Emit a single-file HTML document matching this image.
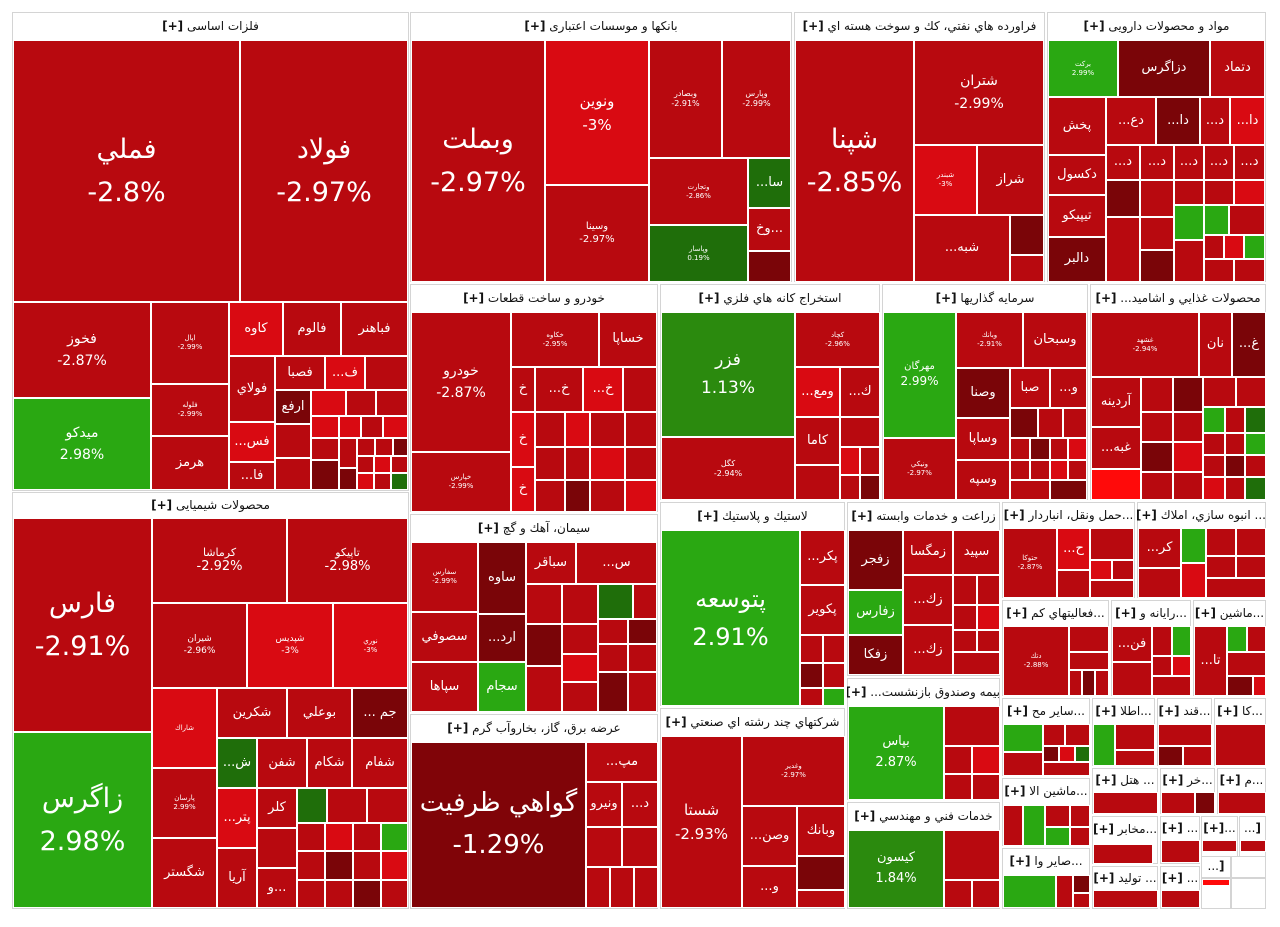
<!DOCTYPE html>
<html><head><meta charset="utf-8">
<style>
body{margin:0;width:1280px;height:927px;background:#fff;position:relative;overflow:hidden;font-family:"DejaVu Sans","Liberation Sans",sans-serif}
.s{position:absolute;box-sizing:border-box;border:1px solid #d4d4d4;background:#fff}
.h{position:absolute;box-sizing:border-box;height:28px;line-height:28px;text-align:center;font-size:12px;color:#111;white-space:nowrap;overflow:hidden;direction:rtl}
.t{position:absolute;box-sizing:border-box;border:1px solid #fff;display:flex;flex-direction:column;align-items:center;justify-content:center;color:#fff;text-align:center;overflow:hidden;line-height:1.25;white-space:nowrap;font-size:13px}
.r{background:#b8090f}.b{background:#d90a12}.d{background:#7a0508}.g{background:#2aa812}.G{background:#1f6e0a}.m{background:#2b8a0e}.R{background:#ff0a0a}
.L{font-size:27px;line-height:1.6}.M{font-size:14px;line-height:1.6}.x{font-size:7px}
</style></head><body>
<!-- sector frames & headers -->
<div class="s" style="left:12px;top:12px;width:397px;height:479px"></div><div class="h" style="left:12px;top:12px;width:397px">فلزات اساسی <b>[+]</b></div>
<div class="s" style="left:12px;top:492px;width:397px;height:417px"></div><div class="h" style="left:12px;top:492px;width:397px;height:26px;line-height:26px">محصولات شیمیایی <b>[+]</b></div>
<div class="s" style="left:410px;top:12px;width:382px;height:270px"></div><div class="h" style="left:410px;top:12px;width:382px">بانکها و موسسات اعتباری <b>[+]</b></div>
<div class="s" style="left:794px;top:12px;width:251px;height:270px"></div><div class="h" style="left:794px;top:12px;width:251px">فراورده هاي نفتي، كك و سوخت هسته اي <b>[+]</b></div>
<div class="s" style="left:1047px;top:12px;width:219px;height:270px"></div><div class="h" style="left:1047px;top:12px;width:219px">مواد و محصولات دارویی <b>[+]</b></div>
<div class="s" style="left:410px;top:284px;width:248px;height:228px"></div><div class="h" style="left:410px;top:284px;width:248px">خودرو و ساخت قطعات <b>[+]</b></div>
<div class="s" style="left:660px;top:284px;width:220px;height:216px"></div><div class="h" style="left:660px;top:284px;width:220px">استخراج كانه هاي فلزي <b>[+]</b></div>
<div class="s" style="left:882px;top:284px;width:206px;height:216px"></div><div class="h" style="left:882px;top:284px;width:206px">سرمايه گذاريها <b>[+]</b></div>
<div class="s" style="left:1090px;top:284px;width:176px;height:216px"></div><div class="h" style="left:1090px;top:284px;width:176px">محصولات غذايي و اشاميد... <b>[+]</b></div>
<div class="s" style="left:410px;top:514px;width:248px;height:198px"></div><div class="h" style="left:410px;top:514px;width:248px">سيمان، آهك و گچ <b>[+]</b></div>
<div class="s" style="left:410px;top:714px;width:248px;height:195px"></div><div class="h" style="left:410px;top:714px;width:248px">عرضه برق، گاز، بخاروآب گرم <b>[+]</b></div>
<div class="s" style="left:660px;top:502px;width:185px;height:204px"></div><div class="h" style="left:660px;top:502px;width:185px">لاستيك و پلاستيك <b>[+]</b></div>
<div class="s" style="left:660px;top:708px;width:185px;height:201px"></div><div class="h" style="left:660px;top:708px;width:185px">شركتهاي چند رشته اي صنعتي <b>[+]</b></div>
<div class="s" style="left:847px;top:502px;width:153px;height:174px"></div><div class="h" style="left:847px;top:502px;width:153px">زراعت و خدمات وابسته <b>[+]</b></div>
<div class="s" style="left:847px;top:678px;width:153px;height:122px"></div><div class="h" style="left:847px;top:678px;width:153px">بيمه وصندوق بازنشست... <b>[+]</b></div>
<div class="s" style="left:847px;top:802px;width:153px;height:107px"></div><div class="h" style="left:847px;top:802px;width:153px">خدمات فني و مهندسي <b>[+]</b></div>
<div class="s" style="left:1002px;top:502px;width:133px;height:96px"></div><div class="h" style="left:1002px;top:502px;width:133px;height:26px;line-height:26px">...حمل ونقل، انباردار <b>[+]</b></div>
<div class="s" style="left:1137px;top:502px;width:129px;height:96px"></div><div class="h" style="left:1137px;top:502px;width:129px;height:26px;line-height:26px">... انبوه سازي، املاك <b>[+]</b></div>
<div class="s" style="left:1002px;top:600px;width:107px;height:96px"></div><div class="h" style="left:1002px;top:600px;width:107px;height:26px;line-height:26px">...فعاليتهاي كم <b>[+]</b></div>
<div class="s" style="left:1111px;top:600px;width:80px;height:96px"></div><div class="h" style="left:1111px;top:600px;width:80px;height:26px;line-height:26px">...رايانه و <b>[+]</b></div>
<div class="s" style="left:1193px;top:600px;width:73px;height:96px"></div><div class="h" style="left:1193px;top:600px;width:73px;height:26px;line-height:26px">...ماشين <b>[+]</b></div>
<div class="s" style="left:1002px;top:698px;width:88px;height:78px"></div><div class="h" style="left:1002px;top:698px;width:88px;height:26px;line-height:26px">...ساير مح <b>[+]</b></div>
<div class="s" style="left:1092px;top:698px;width:63px;height:68px"></div><div class="h" style="left:1092px;top:698px;width:63px;height:26px;line-height:26px">...اطلا <b>[+]</b></div>
<div class="s" style="left:1157px;top:698px;width:55px;height:68px"></div><div class="h" style="left:1157px;top:698px;width:55px;height:26px;line-height:26px">...قند <b>[+]</b></div>
<div class="s" style="left:1214px;top:698px;width:52px;height:68px"></div><div class="h" style="left:1214px;top:698px;width:52px;height:26px;line-height:26px">...كا <b>[+]</b></div>
<div class="s" style="left:1092px;top:768px;width:66px;height:46px"></div><div class="h" style="left:1092px;top:768px;width:66px;height:24px;line-height:24px">... هتل <b>[+]</b></div>
<div class="s" style="left:1160px;top:768px;width:55px;height:46px"></div><div class="h" style="left:1160px;top:768px;width:55px;height:24px;line-height:24px">...خر <b>[+]</b></div>
<div class="s" style="left:1217px;top:768px;width:49px;height:46px"></div><div class="h" style="left:1217px;top:768px;width:49px;height:24px;line-height:24px">...م <b>[+]</b></div>
<div class="s" style="left:1002px;top:778px;width:88px;height:68px"></div><div class="h" style="left:1002px;top:778px;width:88px;height:27px;line-height:27px">...ماشين الا <b>[+]</b></div>
<div class="s" style="left:1002px;top:848px;width:88px;height:61px"></div><div class="h" style="left:1002px;top:848px;width:88px;height:27px;line-height:27px">...صاير وا <b>[+]</b></div>
<div class="s" style="left:1092px;top:816px;width:66px;height:48px"></div><div class="h" style="left:1092px;top:816px;width:66px;height:26px;line-height:26px">...مخابر <b>[+]</b></div>
<div class="s" style="left:1092px;top:866px;width:66px;height:43px"></div><div class="h" style="left:1092px;top:866px;width:66px;height:24px;line-height:24px">... توليد <b>[+]</b></div>
<div class="s" style="left:1160px;top:816px;width:40px;height:48px"></div><div class="h" style="left:1160px;top:816px;width:40px;height:24px;line-height:24px">... <b>[+]</b></div>
<div class="s" style="left:1201px;top:816px;width:37px;height:48px"></div><div class="h" style="left:1201px;top:816px;width:37px;height:24px;line-height:24px">...<b>[+]</b></div>
<div class="s" style="left:1239px;top:816px;width:27px;height:48px"></div><div class="h" style="left:1239px;top:816px;width:27px;height:24px;line-height:24px"><b>[</b>...</div>
<div class="s" style="left:1160px;top:866px;width:40px;height:43px"></div><div class="h" style="left:1160px;top:866px;width:40px;height:24px;line-height:24px">... <b>[+]</b></div>
<div class="s" style="left:1201px;top:856px;width:30px;height:22px"></div><div class="h" style="left:1201px;top:856px;width:30px;height:20px;line-height:20px"><b>[</b>...</div>
<div class="s" style="left:1231px;top:856px;width:35px;height:22px"></div>
<div class="s" style="left:1201px;top:878px;width:30px;height:31px"></div>
<div class="s" style="left:1231px;top:878px;width:35px;height:31px"></div>

<!-- فلزات -->
<div class="t r L" style="left:13px;top:40px;width:227px;height:262px"><div>فملي</div><div>-2.8%</div></div>
<div class="t r L" style="left:240px;top:40px;width:168px;height:262px"><div>فولاد</div><div>-2.97%</div></div>
<div class="t r M" style="left:13px;top:302px;width:138px;height:96px"><div>فخوز</div><div>-2.87%</div></div>
<div class="t g M" style="left:13px;top:398px;width:138px;height:92px"><div>ميدكو</div><div>2.98%</div></div>
<div class="t r x" style="left:151px;top:302px;width:78px;height:82px"><div>اپال</div><div>-2.99%</div></div>
<div class="t r x" style="left:151px;top:384px;width:78px;height:52px"><div>فلوله</div><div>-2.99%</div></div>
<div class="t r" style="left:151px;top:436px;width:78px;height:54px">هرمز</div>
<div class="t b" style="left:229px;top:302px;width:54px;height:54px">كاوه</div>
<div class="t r" style="left:283px;top:302px;width:58px;height:54px">فالوم</div>
<div class="t r" style="left:341px;top:302px;width:67px;height:54px">فباهنر</div>
<div class="t r" style="left:229px;top:356px;width:46px;height:66px">فولاي</div>
<div class="t r" style="left:275px;top:356px;width:50px;height:34px">فصبا</div>
<div class="t b" style="left:325px;top:356px;width:40px;height:34px">...ف</div>
<div class="t r" style="left:365px;top:356px;width:43px;height:34px"></div>
<div class="t b" style="left:229px;top:422px;width:46px;height:40px">...فس</div>
<div class="t r" style="left:229px;top:462px;width:46px;height:28px">...فا</div>
<div class="t d" style="left:275px;top:390px;width:36px;height:34px">ارفع</div>
<div class="t r" style="left:275px;top:424px;width:36px;height:34px"></div>
<div class="t r" style="left:275px;top:458px;width:36px;height:32px"></div>
<div class="t b" style="left:311px;top:390px;width:35px;height:26px"></div>
<div class="t r" style="left:346px;top:390px;width:30px;height:26px"></div>
<div class="t r" style="left:376px;top:390px;width:32px;height:26px"></div>
<div class="t b" style="left:311px;top:416px;width:28px;height:22px"></div>
<div class="t b" style="left:339px;top:416px;width:22px;height:22px"></div>
<div class="t r" style="left:361px;top:416px;width:22px;height:22px"></div>
<div class="t b" style="left:383px;top:416px;width:25px;height:22px"></div>
<div class="t r" style="left:311px;top:438px;width:28px;height:22px"></div>
<div class="t d" style="left:311px;top:460px;width:28px;height:30px"></div>
<div class="t r" style="left:339px;top:438px;width:18px;height:30px"></div>
<div class="t d" style="left:339px;top:468px;width:18px;height:22px"></div>
<div class="t r" style="left:357px;top:438px;width:18px;height:18px"></div>
<div class="t r" style="left:375px;top:438px;width:18px;height:18px"></div>
<div class="t d" style="left:393px;top:438px;width:15px;height:18px"></div>
<div class="t r" style="left:357px;top:456px;width:17px;height:17px"></div>
<div class="t b" style="left:374px;top:456px;width:17px;height:17px"></div>
<div class="t r" style="left:391px;top:456px;width:17px;height:17px"></div>
<div class="t b" style="left:357px;top:473px;width:17px;height:17px"></div>
<div class="t r" style="left:374px;top:473px;width:17px;height:17px"></div>
<div class="t G" style="left:391px;top:473px;width:17px;height:17px"></div>

<!-- شیمیایی -->
<div class="t r L" style="left:13px;top:518px;width:139px;height:214px"><div>فارس</div><div>-2.91%</div></div>
<div class="t g L" style="left:13px;top:732px;width:139px;height:176px"><div>زاگرس</div><div>2.98%</div></div>
<div class="t r" style="left:152px;top:518px;width:135px;height:85px"><div style="font-size:11px">كرماشا</div><div>-2.92%</div></div>
<div class="t r" style="left:287px;top:518px;width:121px;height:85px"><div style="font-size:11px">تاپيكو</div><div>-2.98%</div></div>
<div class="t r" style="left:152px;top:603px;width:95px;height:85px;font-size:9px"><div>شيران</div><div>-2.96%</div></div>
<div class="t b" style="left:247px;top:603px;width:86px;height:85px;font-size:9px"><div>شپديس</div><div>-3%</div></div>
<div class="t b" style="left:333px;top:603px;width:75px;height:85px;font-size:7px"><div>نوري</div><div>-3%</div></div>
<div class="t b x" style="left:152px;top:688px;width:65px;height:80px">شاراك</div>
<div class="t r x" style="left:152px;top:768px;width:65px;height:70px"><div>پارسان</div><div>2.99%</div></div>
<div class="t r" style="left:152px;top:838px;width:65px;height:70px">شگستر</div>
<div class="t r" style="left:217px;top:688px;width:70px;height:50px">شكرين</div>
<div class="t r" style="left:287px;top:688px;width:65px;height:50px">بوعلي</div>
<div class="t d" style="left:352px;top:688px;width:56px;height:50px">... جم</div>
<div class="t G" style="left:217px;top:738px;width:40px;height:50px">...ش</div>
<div class="t r" style="left:257px;top:738px;width:50px;height:50px">شفن</div>
<div class="t r" style="left:307px;top:738px;width:45px;height:50px">شكام</div>
<div class="t r" style="left:352px;top:738px;width:56px;height:50px">شفام</div>
<div class="t b" style="left:217px;top:788px;width:40px;height:60px">...پتر</div>
<div class="t r" style="left:257px;top:788px;width:40px;height:40px">كلر</div>
<div class="t G" style="left:297px;top:788px;width:30px;height:35px"></div>
<div class="t r" style="left:327px;top:788px;width:40px;height:35px"></div>
<div class="t r" style="left:367px;top:788px;width:41px;height:35px"></div>
<div class="t r" style="left:217px;top:848px;width:40px;height:60px">آريا</div>
<div class="t r" style="left:257px;top:828px;width:40px;height:40px"></div>
<div class="t r" style="left:257px;top:868px;width:40px;height:40px">و...</div>
<div class="t r" style="left:297px;top:823px;width:28px;height:28px"></div>
<div class="t b" style="left:325px;top:823px;width:28px;height:28px"></div>
<div class="t r" style="left:353px;top:823px;width:28px;height:28px"></div>
<div class="t g" style="left:381px;top:823px;width:27px;height:28px"></div>
<div class="t r" style="left:297px;top:851px;width:28px;height:29px"></div>
<div class="t d" style="left:325px;top:851px;width:28px;height:29px"></div>
<div class="t r" style="left:353px;top:851px;width:28px;height:29px"></div>
<div class="t b" style="left:381px;top:851px;width:27px;height:29px"></div>
<div class="t r" style="left:297px;top:880px;width:28px;height:28px"></div>
<div class="t r" style="left:325px;top:880px;width:28px;height:28px"></div>
<div class="t d" style="left:353px;top:880px;width:28px;height:28px"></div>
<div class="t r" style="left:381px;top:880px;width:27px;height:28px"></div>

<!-- بانکها -->
<div class="t r L" style="left:411px;top:40px;width:134px;height:242px"><div>وبملت</div><div>-2.97%</div></div>
<div class="t b" style="left:545px;top:40px;width:104px;height:145px;font-size:15px;line-height:1.6"><div>ونوين</div><div>-3%</div></div>
<div class="t r" style="left:545px;top:185px;width:104px;height:97px;font-size:10px"><div>وسينا</div><div>-2.97%</div></div>
<div class="t r" style="left:649px;top:40px;width:73px;height:118px;font-size:8px"><div>وبصادر</div><div>-2.91%</div></div>
<div class="t r" style="left:722px;top:40px;width:69px;height:118px;font-size:8px"><div>وپارس</div><div>-2.99%</div></div>
<div class="t r" style="left:649px;top:158px;width:99px;height:67px;font-size:7px"><div>وتجارت</div><div>-2.86%</div></div>
<div class="t G" style="left:748px;top:158px;width:43px;height:50px">...سا</div>
<div class="t r" style="left:748px;top:208px;width:43px;height:43px">وخ...</div>
<div class="t d" style="left:748px;top:251px;width:43px;height:31px"></div>
<div class="t G x" style="left:649px;top:225px;width:99px;height:57px"><div>وپاسار</div><div>0.19%</div></div>

<!-- نفتی -->
<div class="t r L" style="left:795px;top:40px;width:119px;height:242px"><div>شپنا</div><div>-2.85%</div></div>
<div class="t r" style="left:914px;top:40px;width:130px;height:105px;font-size:14px;line-height:1.6"><div>شتران</div><div>-2.99%</div></div>
<div class="t b x" style="left:914px;top:145px;width:63px;height:70px"><div>شبندر</div><div>-3%</div></div>
<div class="t r" style="left:977px;top:145px;width:67px;height:70px">شراز</div>
<div class="t r" style="left:914px;top:215px;width:96px;height:67px">...شبه</div>
<div class="t d" style="left:1010px;top:215px;width:34px;height:40px"></div>
<div class="t r" style="left:1010px;top:255px;width:34px;height:27px"></div>

<!-- دارویی -->
<div class="t g x" style="left:1048px;top:40px;width:70px;height:57px"><div>بركت</div><div>2.99%</div></div>
<div class="t d" style="left:1118px;top:40px;width:92px;height:57px">دزاگرس</div>
<div class="t r" style="left:1210px;top:40px;width:55px;height:57px">دتماد</div>
<div class="t r" style="left:1048px;top:97px;width:58px;height:58px">پخش</div>
<div class="t r" style="left:1048px;top:155px;width:58px;height:40px">دكسول</div>
<div class="t r" style="left:1048px;top:195px;width:58px;height:42px">تيپيكو</div>
<div class="t d" style="left:1048px;top:237px;width:58px;height:45px">دالبر</div>
<div class="t r" style="left:1106px;top:97px;width:50px;height:48px">...دع</div>
<div class="t d" style="left:1156px;top:97px;width:44px;height:48px">...دا</div>
<div class="t r" style="left:1200px;top:97px;width:30px;height:48px">...د</div>
<div class="t b" style="left:1230px;top:97px;width:35px;height:48px">...دا</div>
<div class="t r" style="left:1106px;top:145px;width:34px;height:35px">...د</div>
<div class="t r" style="left:1140px;top:145px;width:34px;height:35px">...د</div>
<div class="t r" style="left:1174px;top:145px;width:30px;height:35px">...د</div>
<div class="t r" style="left:1204px;top:145px;width:30px;height:35px">...د</div>
<div class="t r" style="left:1234px;top:145px;width:31px;height:35px">...د</div>
<div class="t d" style="left:1106px;top:180px;width:34px;height:37px"></div>
<div class="t r" style="left:1140px;top:180px;width:34px;height:37px"></div>
<div class="t r" style="left:1174px;top:180px;width:30px;height:25px"></div>
<div class="t r" style="left:1204px;top:180px;width:30px;height:25px"></div>
<div class="t b" style="left:1234px;top:180px;width:31px;height:25px"></div>
<div class="t r" style="left:1106px;top:217px;width:34px;height:65px"></div>
<div class="t r" style="left:1140px;top:217px;width:34px;height:33px"></div>
<div class="t d" style="left:1140px;top:250px;width:34px;height:32px"></div>
<div class="t g" style="left:1174px;top:205px;width:30px;height:35px"></div>
<div class="t g" style="left:1204px;top:205px;width:25px;height:30px"></div>
<div class="t r" style="left:1229px;top:205px;width:36px;height:30px"></div>
<div class="t r" style="left:1174px;top:240px;width:30px;height:42px"></div>
<div class="t r" style="left:1204px;top:235px;width:20px;height:24px"></div>
<div class="t b" style="left:1224px;top:235px;width:20px;height:24px"></div>
<div class="t g" style="left:1244px;top:235px;width:21px;height:24px"></div>
<div class="t r" style="left:1204px;top:259px;width:30px;height:23px"></div>
<div class="t r" style="left:1234px;top:259px;width:31px;height:23px"></div>

<!-- خودرو -->
<div class="t r M" style="left:411px;top:312px;width:100px;height:140px"><div>خودرو</div><div>-2.87%</div></div>
<div class="t r x" style="left:411px;top:452px;width:100px;height:60px"><div>خپارس</div><div>-2.99%</div></div>
<div class="t r x" style="left:511px;top:312px;width:88px;height:55px"><div>خكاوه</div><div>-2.95%</div></div>
<div class="t r" style="left:599px;top:312px;width:58px;height:55px">خساپا</div>
<div class="t r" style="left:511px;top:367px;width:24px;height:45px">خ</div>
<div class="t r" style="left:535px;top:367px;width:48px;height:45px">...خ</div>
<div class="t b" style="left:583px;top:367px;width:40px;height:45px">...خ</div>
<div class="t r" style="left:623px;top:367px;width:34px;height:45px"></div>
<div class="t b" style="left:511px;top:412px;width:24px;height:55px">خ</div>
<div class="t b" style="left:511px;top:467px;width:24px;height:45px">خ</div>
<div class="t r" style="left:535px;top:412px;width:30px;height:35px"></div>
<div class="t b" style="left:565px;top:412px;width:25px;height:35px"></div>
<div class="t r" style="left:590px;top:412px;width:35px;height:35px"></div>
<div class="t r" style="left:625px;top:412px;width:32px;height:35px"></div>
<div class="t r" style="left:535px;top:447px;width:30px;height:33px"></div>
<div class="t r" style="left:565px;top:447px;width:25px;height:33px"></div>
<div class="t b" style="left:590px;top:447px;width:35px;height:33px"></div>
<div class="t r" style="left:625px;top:447px;width:32px;height:33px"></div>
<div class="t r" style="left:535px;top:480px;width:30px;height:32px"></div>
<div class="t d" style="left:565px;top:480px;width:25px;height:32px"></div>
<div class="t r" style="left:590px;top:480px;width:35px;height:32px"></div>
<div class="t b" style="left:625px;top:480px;width:32px;height:32px"></div>

<!-- استخراج -->
<div class="t m M" style="left:661px;top:312px;width:134px;height:125px;font-size:17px"><div>فزر</div><div>1.13%</div></div>
<div class="t r" style="left:661px;top:437px;width:134px;height:63px;font-size:8px"><div>كگل</div><div>-2.94%</div></div>
<div class="t r x" style="left:795px;top:312px;width:85px;height:55px"><div>كچاد</div><div>-2.96%</div></div>
<div class="t b" style="left:795px;top:367px;width:45px;height:50px">...ومع</div>
<div class="t r" style="left:840px;top:367px;width:40px;height:50px">...ك</div>
<div class="t r" style="left:795px;top:417px;width:45px;height:48px">كاما</div>
<div class="t r" style="left:795px;top:465px;width:45px;height:35px"></div>
<div class="t r" style="left:840px;top:417px;width:40px;height:30px"></div>
<div class="t b" style="left:840px;top:447px;width:20px;height:28px"></div>
<div class="t r" style="left:860px;top:447px;width:20px;height:28px"></div>
<div class="t r" style="left:840px;top:475px;width:20px;height:25px"></div>
<div class="t d" style="left:860px;top:475px;width:20px;height:25px"></div>

<!-- سرمایه گذاری -->
<div class="t g" style="left:883px;top:312px;width:73px;height:126px;font-size:10px"><div>مهرگان</div><div style="font-size:12px">2.99%</div></div>
<div class="t r x" style="left:883px;top:438px;width:73px;height:62px"><div>ونيكي</div><div>-2.97%</div></div>
<div class="t r x" style="left:956px;top:312px;width:67px;height:56px"><div>وبانك</div><div>-2.91%</div></div>
<div class="t r" style="left:1023px;top:312px;width:64px;height:56px">وسبحان</div>
<div class="t d" style="left:956px;top:368px;width:54px;height:50px">وصنا</div>
<div class="t r" style="left:1010px;top:368px;width:40px;height:40px">صبا</div>
<div class="t r" style="left:1050px;top:368px;width:37px;height:40px">...و</div>
<div class="t r" style="left:956px;top:418px;width:54px;height:42px">وساپا</div>
<div class="t r" style="left:956px;top:460px;width:54px;height:40px">وسپه</div>
<div class="t d" style="left:1010px;top:408px;width:28px;height:30px"></div>
<div class="t r" style="left:1038px;top:408px;width:25px;height:30px"></div>
<div class="t r" style="left:1063px;top:408px;width:24px;height:30px"></div>
<div class="t r" style="left:1010px;top:438px;width:20px;height:22px"></div>
<div class="t d" style="left:1030px;top:438px;width:20px;height:22px"></div>
<div class="t r" style="left:1050px;top:438px;width:18px;height:22px"></div>
<div class="t b" style="left:1068px;top:438px;width:19px;height:22px"></div>
<div class="t r" style="left:1010px;top:460px;width:20px;height:20px"></div>
<div class="t r" style="left:1030px;top:460px;width:20px;height:20px"></div>
<div class="t b" style="left:1050px;top:460px;width:18px;height:20px"></div>
<div class="t r" style="left:1068px;top:460px;width:19px;height:20px"></div>
<div class="t r" style="left:1010px;top:480px;width:40px;height:20px"></div>
<div class="t d" style="left:1050px;top:480px;width:37px;height:20px"></div>

<!-- غذایی -->
<div class="t r x" style="left:1091px;top:312px;width:108px;height:65px"><div>غشهد</div><div>-2.94%</div></div>
<div class="t r" style="left:1199px;top:312px;width:33px;height:65px">نان</div>
<div class="t d" style="left:1232px;top:312px;width:34px;height:65px">...غ</div>
<div class="t r" style="left:1091px;top:377px;width:50px;height:50px">آردينه</div>
<div class="t r" style="left:1091px;top:427px;width:50px;height:42px">...غبه</div>
<div class="t R" style="left:1091px;top:469px;width:50px;height:31px"></div>
<div class="t r" style="left:1141px;top:377px;width:32px;height:35px"></div>
<div class="t d" style="left:1173px;top:377px;width:30px;height:35px"></div>
<div class="t r" style="left:1203px;top:377px;width:33px;height:30px"></div>
<div class="t r" style="left:1236px;top:377px;width:30px;height:30px"></div>
<div class="t r" style="left:1141px;top:412px;width:32px;height:30px"></div>
<div class="t r" style="left:1173px;top:412px;width:30px;height:30px"></div>
<div class="t g" style="left:1203px;top:407px;width:22px;height:26px"></div>
<div class="t r" style="left:1225px;top:407px;width:20px;height:26px"></div>
<div class="t G" style="left:1245px;top:407px;width:21px;height:26px"></div>
<div class="t d" style="left:1141px;top:442px;width:32px;height:30px"></div>
<div class="t b" style="left:1173px;top:442px;width:30px;height:30px"></div>
<div class="t r" style="left:1203px;top:433px;width:22px;height:22px"></div>
<div class="t r" style="left:1225px;top:433px;width:20px;height:22px"></div>
<div class="t g" style="left:1245px;top:433px;width:21px;height:22px"></div>
<div class="t r" style="left:1141px;top:472px;width:32px;height:28px"></div>
<div class="t r" style="left:1173px;top:472px;width:30px;height:28px"></div>
<div class="t r" style="left:1203px;top:455px;width:22px;height:22px"></div>
<div class="t d" style="left:1225px;top:455px;width:20px;height:22px"></div>
<div class="t r" style="left:1245px;top:455px;width:21px;height:22px"></div>
<div class="t b" style="left:1203px;top:477px;width:22px;height:23px"></div>
<div class="t r" style="left:1225px;top:477px;width:20px;height:23px"></div>
<div class="t G" style="left:1245px;top:477px;width:21px;height:23px"></div>

<!-- سیمان -->
<div class="t r x" style="left:411px;top:542px;width:67px;height:70px"><div>سفارس</div><div>-2.99%</div></div>
<div class="t r" style="left:411px;top:612px;width:67px;height:50px">سصوفي</div>
<div class="t r" style="left:411px;top:662px;width:67px;height:50px">سپاها</div>
<div class="t d" style="left:478px;top:542px;width:48px;height:72px">ساوه</div>
<div class="t d" style="left:478px;top:614px;width:48px;height:48px">...ارد</div>
<div class="t g" style="left:478px;top:662px;width:48px;height:50px">سجام</div>
<div class="t r" style="left:526px;top:542px;width:50px;height:42px">سباقر</div>
<div class="t r" style="left:576px;top:542px;width:81px;height:42px">...س</div>
<div class="t r" style="left:526px;top:584px;width:36px;height:40px"></div>
<div class="t r" style="left:562px;top:584px;width:36px;height:40px"></div>
<div class="t G" style="left:598px;top:584px;width:35px;height:35px"></div>
<div class="t r" style="left:633px;top:584px;width:24px;height:35px"></div>
<div class="t d" style="left:526px;top:624px;width:36px;height:42px"></div>
<div class="t r" style="left:562px;top:624px;width:36px;height:30px"></div>
<div class="t r" style="left:598px;top:619px;width:30px;height:25px"></div>
<div class="t d" style="left:628px;top:619px;width:29px;height:25px"></div>
<div class="t b" style="left:562px;top:654px;width:36px;height:28px"></div>
<div class="t r" style="left:598px;top:644px;width:30px;height:28px"></div>
<div class="t r" style="left:628px;top:644px;width:29px;height:28px"></div>
<div class="t r" style="left:526px;top:666px;width:36px;height:46px"></div>
<div class="t r" style="left:562px;top:682px;width:36px;height:30px"></div>
<div class="t d" style="left:598px;top:672px;width:30px;height:40px"></div>
<div class="t r" style="left:628px;top:672px;width:29px;height:40px"></div>

<!-- برق -->
<div class="t d" style="left:411px;top:742px;width:175px;height:166px;font-size:26px;line-height:1.6;background:#800408"><div>گواهي ظرفيت</div><div>-1.29%</div></div>
<div class="t r" style="left:586px;top:742px;width:72px;height:40px">...مپ</div>
<div class="t r" style="left:586px;top:782px;width:36px;height:45px">ونيرو</div>
<div class="t r" style="left:622px;top:782px;width:36px;height:45px">...د</div>
<div class="t r" style="left:586px;top:827px;width:36px;height:40px"></div>
<div class="t r" style="left:622px;top:827px;width:36px;height:40px"></div>
<div class="t r" style="left:586px;top:867px;width:24px;height:41px"></div>
<div class="t r" style="left:610px;top:867px;width:24px;height:41px"></div>
<div class="t r" style="left:634px;top:867px;width:24px;height:41px"></div>

<!-- لاستیک -->
<div class="t g L" style="left:661px;top:530px;width:139px;height:176px;font-size:24px"><div>پتوسعه</div><div>2.91%</div></div>
<div class="t r" style="left:800px;top:530px;width:45px;height:55px">...پكر</div>
<div class="t r" style="left:800px;top:585px;width:45px;height:50px">پكوير</div>
<div class="t r" style="left:800px;top:635px;width:23px;height:28px"></div>
<div class="t r" style="left:823px;top:635px;width:22px;height:28px"></div>
<div class="t d" style="left:800px;top:663px;width:23px;height:25px"></div>
<div class="t r" style="left:823px;top:663px;width:22px;height:25px"></div>
<div class="t r" style="left:800px;top:688px;width:23px;height:18px"></div>
<div class="t g" style="left:823px;top:688px;width:22px;height:18px"></div>

<!-- چند رشته -->
<div class="t r" style="left:661px;top:736px;width:81px;height:172px;font-size:15px;line-height:1.6"><div>شستا</div><div>-2.93%</div></div>
<div class="t r x" style="left:742px;top:736px;width:103px;height:70px"><div>وغدير</div><div>-2.97%</div></div>
<div class="t r" style="left:742px;top:806px;width:55px;height:60px">...وصن</div>
<div class="t r" style="left:797px;top:806px;width:48px;height:50px">وبانك</div>
<div class="t r" style="left:742px;top:866px;width:55px;height:42px">...و</div>
<div class="t d" style="left:797px;top:856px;width:48px;height:34px"></div>
<div class="t r" style="left:797px;top:890px;width:48px;height:18px"></div>

<!-- زراعت -->
<div class="t d" style="left:848px;top:530px;width:55px;height:60px">زفجر</div>
<div class="t r" style="left:903px;top:530px;width:50px;height:45px">زمگسا</div>
<div class="t r" style="left:953px;top:530px;width:47px;height:45px">سپيد</div>
<div class="t g" style="left:848px;top:590px;width:55px;height:45px">زفارس</div>
<div class="t d" style="left:848px;top:635px;width:55px;height:40px">زفكا</div>
<div class="t r" style="left:903px;top:575px;width:50px;height:50px">...زك</div>
<div class="t r" style="left:903px;top:625px;width:50px;height:50px">...زك</div>
<div class="t r" style="left:953px;top:575px;width:24px;height:30px"></div>
<div class="t r" style="left:977px;top:575px;width:23px;height:30px"></div>
<div class="t r" style="left:953px;top:605px;width:24px;height:25px"></div>
<div class="t b" style="left:977px;top:605px;width:23px;height:25px"></div>
<div class="t r" style="left:953px;top:630px;width:24px;height:22px"></div>
<div class="t r" style="left:977px;top:630px;width:23px;height:22px"></div>
<div class="t r" style="left:953px;top:652px;width:47px;height:23px"></div>

<!-- بیمه -->
<div class="t g" style="left:848px;top:706px;width:96px;height:94px;font-size:13px;line-height:1.6"><div>بپاس</div><div>2.87%</div></div>
<div class="t r" style="left:944px;top:706px;width:56px;height:40px"></div>
<div class="t r" style="left:944px;top:746px;width:28px;height:28px"></div>
<div class="t b" style="left:972px;top:746px;width:28px;height:28px"></div>
<div class="t r" style="left:944px;top:774px;width:28px;height:26px"></div>
<div class="t r" style="left:972px;top:774px;width:28px;height:26px"></div>

<!-- خدمات فنی -->
<div class="t m" style="left:848px;top:830px;width:96px;height:78px;font-size:13px;line-height:1.6"><div>كيسون</div><div>1.84%</div></div>
<div class="t r" style="left:944px;top:830px;width:56px;height:50px"></div>
<div class="t r" style="left:944px;top:880px;width:28px;height:28px"></div>
<div class="t r" style="left:972px;top:880px;width:28px;height:28px"></div>

<!-- small right sectors -->
<div class="t r x" style="left:1003px;top:528px;width:54px;height:70px"><div>حتوكا</div><div>-2.87%</div></div>
<div class="t b" style="left:1057px;top:528px;width:33px;height:42px">...ح</div>
<div class="t r" style="left:1057px;top:570px;width:33px;height:28px"></div>
<div class="t r" style="left:1090px;top:528px;width:44px;height:32px"></div>
<div class="t b" style="left:1090px;top:560px;width:22px;height:20px"></div>
<div class="t r" style="left:1112px;top:560px;width:22px;height:20px"></div>
<div class="t r" style="left:1090px;top:580px;width:44px;height:18px"></div>

<div class="t r" style="left:1138px;top:528px;width:43px;height:40px">...كر</div>
<div class="t r" style="left:1138px;top:568px;width:43px;height:30px"></div>
<div class="t g" style="left:1181px;top:528px;width:25px;height:35px"></div>
<div class="t b" style="left:1181px;top:563px;width:25px;height:35px"></div>
<div class="t r" style="left:1206px;top:528px;width:30px;height:28px"></div>
<div class="t r" style="left:1236px;top:528px;width:30px;height:28px"></div>
<div class="t r" style="left:1206px;top:556px;width:30px;height:22px"></div>
<div class="t r" style="left:1236px;top:556px;width:30px;height:22px"></div>
<div class="t r" style="left:1206px;top:578px;width:60px;height:20px"></div>

<div class="t r x" style="left:1003px;top:626px;width:66px;height:70px"><div>دتك</div><div>-2.88%</div></div>
<div class="t r" style="left:1069px;top:626px;width:40px;height:26px"></div>
<div class="t r" style="left:1069px;top:652px;width:40px;height:18px"></div>
<div class="t r" style="left:1069px;top:670px;width:13px;height:26px"></div>
<div class="t d" style="left:1082px;top:670px;width:13px;height:26px"></div>
<div class="t r" style="left:1095px;top:670px;width:14px;height:26px"></div>

<div class="t r" style="left:1112px;top:626px;width:40px;height:36px">...فن</div>
<div class="t r" style="left:1112px;top:662px;width:40px;height:34px"></div>
<div class="t r" style="left:1152px;top:626px;width:20px;height:30px"></div>
<div class="t g" style="left:1172px;top:626px;width:19px;height:30px"></div>
<div class="t r" style="left:1152px;top:656px;width:20px;height:20px"></div>
<div class="t b" style="left:1172px;top:656px;width:19px;height:20px"></div>
<div class="t r" style="left:1152px;top:676px;width:39px;height:20px"></div>

<div class="t r" style="left:1194px;top:626px;width:33px;height:70px">...تا</div>
<div class="t g" style="left:1227px;top:626px;width:20px;height:26px"></div>
<div class="t r" style="left:1247px;top:626px;width:19px;height:26px"></div>
<div class="t r" style="left:1227px;top:652px;width:39px;height:24px"></div>
<div class="t d" style="left:1227px;top:676px;width:26px;height:20px"></div>
<div class="t b" style="left:1253px;top:676px;width:13px;height:20px"></div>

<div class="t g" style="left:1003px;top:724px;width:40px;height:28px"></div>
<div class="t r" style="left:1003px;top:752px;width:40px;height:24px"></div>
<div class="t r" style="left:1043px;top:724px;width:22px;height:22px"></div>
<div class="t r" style="left:1065px;top:724px;width:25px;height:22px"></div>
<div class="t d" style="left:1043px;top:746px;width:16px;height:16px"></div>
<div class="t b" style="left:1059px;top:746px;width:16px;height:16px"></div>
<div class="t G" style="left:1075px;top:746px;width:15px;height:16px"></div>
<div class="t r" style="left:1043px;top:762px;width:47px;height:14px"></div>

<div class="t g" style="left:1093px;top:724px;width:22px;height:42px"></div>
<div class="t r" style="left:1115px;top:724px;width:40px;height:26px"></div>
<div class="t r" style="left:1115px;top:750px;width:40px;height:16px"></div>
<div class="t r" style="left:1158px;top:724px;width:54px;height:22px"></div>
<div class="t d" style="left:1158px;top:746px;width:25px;height:20px"></div>
<div class="t r" style="left:1183px;top:746px;width:29px;height:20px"></div>
<div class="t r" style="left:1215px;top:724px;width:51px;height:42px"></div>

<div class="t r" style="left:1093px;top:792px;width:65px;height:22px"></div>
<div class="t r" style="left:1161px;top:792px;width:34px;height:22px"></div>
<div class="t d" style="left:1195px;top:792px;width:20px;height:22px"></div>
<div class="t r" style="left:1218px;top:792px;width:48px;height:22px"></div>

<div class="t r" style="left:1003px;top:805px;width:20px;height:41px"></div>
<div class="t g" style="left:1023px;top:805px;width:22px;height:41px"></div>
<div class="t r" style="left:1045px;top:805px;width:25px;height:22px"></div>
<div class="t r" style="left:1070px;top:805px;width:20px;height:22px"></div>
<div class="t g" style="left:1045px;top:827px;width:25px;height:19px"></div>
<div class="t r" style="left:1070px;top:827px;width:20px;height:19px"></div>

<div class="t g" style="left:1003px;top:875px;width:53px;height:33px"></div>
<div class="t r" style="left:1056px;top:875px;width:17px;height:33px"></div>
<div class="t d" style="left:1073px;top:875px;width:17px;height:18px"></div>
<div class="t r" style="left:1073px;top:893px;width:17px;height:15px"></div>

<div class="t r" style="left:1093px;top:844px;width:60px;height:20px"></div>
<div class="t r" style="left:1093px;top:890px;width:65px;height:18px"></div>
<div class="t r" style="left:1161px;top:840px;width:39px;height:23px"></div>
<div class="t r" style="left:1202px;top:840px;width:35px;height:12px"></div>
<div class="t r" style="left:1240px;top:840px;width:26px;height:12px"></div>
<div class="t r" style="left:1161px;top:890px;width:39px;height:18px"></div>
<div class="t R" style="left:1203px;top:880px;width:26px;height:5px;border:0"></div>
</body></html>
